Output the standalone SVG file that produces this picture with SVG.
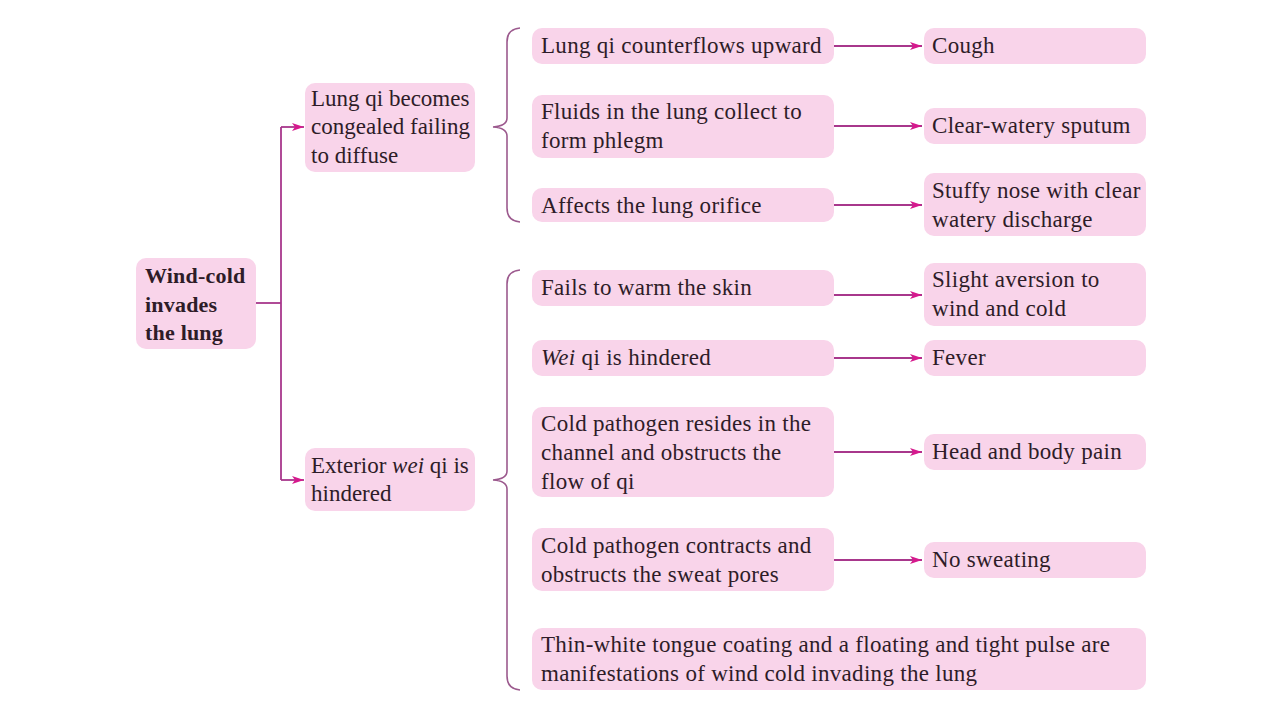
<svg xmlns="http://www.w3.org/2000/svg" width="1280" height="720" viewBox="0 0 1280 720">
<defs>
<marker id="arr" viewBox="0 0 12 10" refX="12" refY="5" markerWidth="12" markerHeight="10" markerUnits="userSpaceOnUse" orient="auto">
<path d="M0,1 L12,5 L0,9 L3,5 Z" fill="#d6198d"/>
</marker>
<style>
.box{fill:#f9d4ea}
.t{font-family:"Liberation Serif","Times New Roman",serif;font-size:23px;letter-spacing:0.3px;fill:#2e1c28}
.n{letter-spacing:0}
.b{font-weight:bold;font-size:22px;letter-spacing:0.2px}
.c{fill:none;stroke:#a8378c;stroke-width:1.8}
.br{fill:none;stroke:#9c5a8e;stroke-width:1.6}
</style>
</defs>
<rect width="1280" height="720" fill="#ffffff"/>

<g id="connectors">
<path class="c" d="M256,303 H281"/>
<path class="c" d="M281,127 V480"/>
<path class="c" d="M281,127 H304" marker-end="url(#arr)"/>
<path class="c" d="M281,480 H304" marker-end="url(#arr)"/>
<path class="br" d="M520,28 Q507,29 507,42 V118 Q507,126 493,127 Q507,128 507,136 V208 Q507,221 520,222"/>
<path class="br" d="M520,270 Q507,271 507,284 V471 Q507,479 493,480 Q507,481 507,489 V676 Q507,689 520,690"/>
<path class="c" d="M834,46 H922" marker-end="url(#arr)"/>
<path class="c" d="M834,126 H922" marker-end="url(#arr)"/>
<path class="c" d="M834,205 H922" marker-end="url(#arr)"/>
<path class="c" d="M834,295 H922" marker-end="url(#arr)"/>
<path class="c" d="M834,358 H922" marker-end="url(#arr)"/>
<path class="c" d="M834,452 H922" marker-end="url(#arr)"/>
<path class="c" d="M834,560 H922" marker-end="url(#arr)"/>
</g>

<g id="root">
<rect class="box" x="136" y="258" width="120" height="91" rx="10"/>
<text class="t b" x="145" y="283">Wind-cold</text>
<text class="t b" x="145" y="312">invades</text>
<text class="t b" x="145" y="340">the lung</text>
</g>

<g id="congealed">
<rect class="box" x="305" y="83" width="170" height="89" rx="10"/>
<text class="t n" x="311" y="106">Lung qi becomes</text>
<text class="t n" x="311" y="134">congealed failing</text>
<text class="t n" x="311" y="163">to diffuse</text>
</g>

<g id="exterior">
<rect class="box" x="305" y="448" width="170" height="63" rx="10"/>
<text class="t n" x="311" y="473">Exterior <tspan font-style="italic">wei</tspan> qi is</text>
<text class="t n" x="311" y="501">hindered</text>
</g>

<g id="m1">
<rect class="box" x="532" y="28" width="302" height="36" rx="10"/>
<text class="t" x="541" y="53">Lung qi counterflows upward</text>
</g>
<g id="m2">
<rect class="box" x="532" y="95" width="302" height="63" rx="10"/>
<text class="t" x="541" y="119">Fluids in the lung collect to</text>
<text class="t" x="541" y="148">form phlegm</text>
</g>
<g id="m3">
<rect class="box" x="532" y="188" width="302" height="34" rx="10"/>
<text class="t" x="541" y="213">Affects the lung orifice</text>
</g>
<g id="m4">
<rect class="box" x="532" y="270" width="302" height="36" rx="10"/>
<text class="t" x="541" y="295">Fails to warm the skin</text>
</g>
<g id="m5">
<rect class="box" x="532" y="340" width="302" height="36" rx="10"/>
<text class="t" x="541" y="365"><tspan font-style="italic">Wei</tspan> qi is hindered</text>
</g>
<g id="m6">
<rect class="box" x="532" y="407" width="302" height="90" rx="10"/>
<text class="t" x="541" y="431">Cold pathogen resides in the</text>
<text class="t" x="541" y="460">channel and obstructs the</text>
<text class="t" x="541" y="489">flow of qi</text>
</g>
<g id="m7">
<rect class="box" x="532" y="528" width="302" height="63" rx="10"/>
<text class="t" x="541" y="553">Cold pathogen contracts and</text>
<text class="t" x="541" y="582">obstructs the sweat pores</text>
</g>
<g id="m8">
<rect class="box" x="532" y="628" width="614" height="62" rx="10"/>
<text class="t" x="541" y="652">Thin-white tongue coating and a floating and tight pulse are</text>
<text class="t" x="541" y="681">manifestations of wind cold invading the lung</text>
</g>

<g id="r1">
<rect class="box" x="924" y="28" width="222" height="36" rx="10"/>
<text class="t" x="932" y="53">Cough</text>
</g>
<g id="r2">
<rect class="box" x="924" y="108" width="222" height="36" rx="10"/>
<text class="t" x="932" y="133">Clear-watery sputum</text>
</g>
<g id="r3">
<rect class="box" x="924" y="173" width="222" height="63" rx="10"/>
<text class="t" x="932" y="198">Stuffy nose with clear</text>
<text class="t" x="932" y="227">watery discharge</text>
</g>
<g id="r4">
<rect class="box" x="924" y="263" width="222" height="63" rx="10"/>
<text class="t" x="932" y="287">Slight aversion to</text>
<text class="t" x="932" y="316">wind and cold</text>
</g>
<g id="r5">
<rect class="box" x="924" y="340" width="222" height="36" rx="10"/>
<text class="t" x="932" y="365">Fever</text>
</g>
<g id="r6">
<rect class="box" x="924" y="434" width="222" height="36" rx="10"/>
<text class="t" x="932" y="459">Head and body pain</text>
</g>
<g id="r7">
<rect class="box" x="924" y="542" width="222" height="36" rx="10"/>
<text class="t" x="932" y="567">No sweating</text>
</g>
</svg>
